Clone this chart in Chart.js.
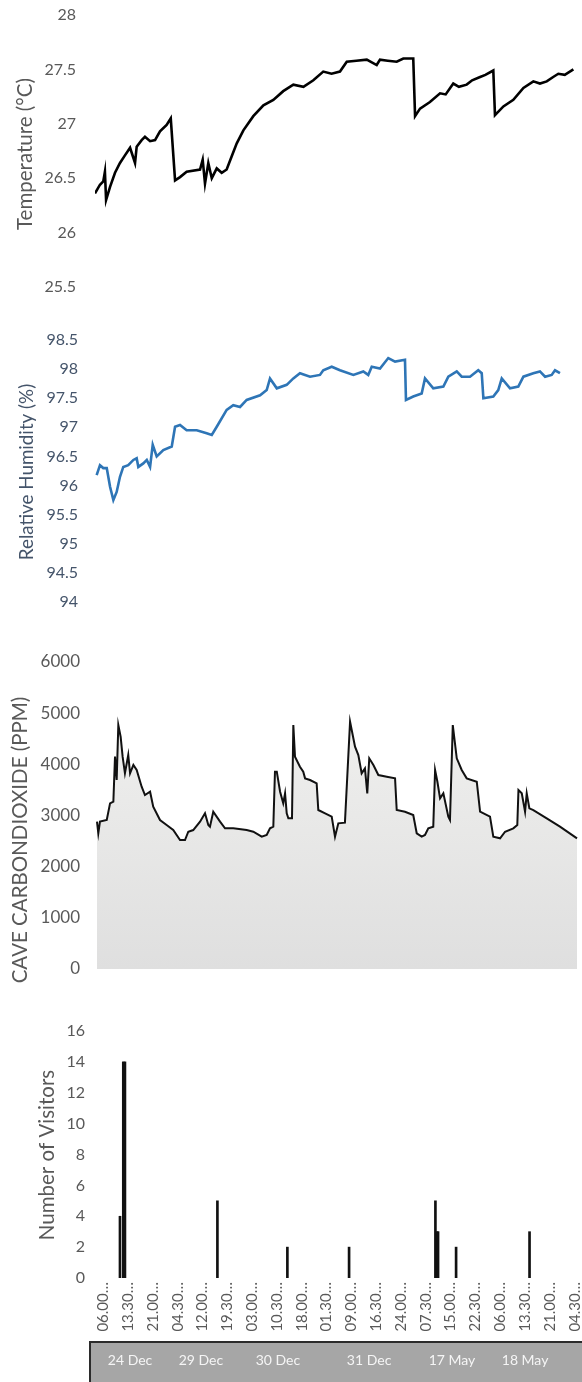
<!DOCTYPE html>
<html><head><meta charset="utf-8">
<script src="https://cdn.jsdelivr.net/npm/chart.js@4.4.0/dist/chart.umd.min.js"></script>
<style>
html,body{margin:0;padding:0;background:#fff;}
#wrap{position:relative;width:582px;height:1382px;overflow:hidden;}
.p{position:absolute;left:0;width:582px;}
canvas{display:block;}
</style></head><body>
<div id="wrap">
<div class="p" style="top:0;height:300px"><canvas id="c1" width="582" height="300"></canvas></div>
<div class="p" style="top:300px;height:320px"><canvas id="c2" width="582" height="320"></canvas></div>
<div class="p" style="top:640px;height:360px"><canvas id="c3" width="582" height="360"></canvas></div>
<div class="p" style="top:1000px;height:382px"><canvas id="c4" width="582" height="382"></canvas></div>
</div>
<script>
// ---- time index (half-hour steps across the six recorded days) ----
const X_MIN = 0, X_MAX = 292;

// Temperature (°C)
const tempIdx = [0,3,5,6,6.7,9.1,12.1,15.1,18.1,21.2,24.2,25.2,28.2,30.2,33.3,36.3,39.3,43.3,45.8,48.4,51.4,55.4,63.5,65.1,66.5,68.5,70.6,73.6,76.6,79.6,82.6,85.7,89.7,95.7,101.8,107.8,113.8,119.9,126,132,138,143,148.1,152.2,158,164.3,170.3,172.3,177,182.4,186.4,192.4,193.5,196.5,202.5,208.6,212,216.6,220,224.7,228,232.8,236,240.8,241.8,246.9,252.9,259,265,269,273.1,277,280.1,284,289.2];
const tempVal = [26.36,26.44,26.47,26.56,26.30,26.42,26.55,26.64,26.71,26.78,26.64,26.79,26.85,26.88,26.84,26.85,26.93,26.99,27.05,26.48,26.51,26.56,26.58,26.67,26.45,26.64,26.50,26.59,26.55,26.58,26.70,26.82,26.94,27.07,27.17,27.22,27.30,27.36,27.34,27.40,27.48,27.46,27.48,27.57,27.58,27.59,27.54,27.59,27.58,27.57,27.60,27.60,27.07,27.14,27.20,27.28,27.27,27.37,27.34,27.36,27.40,27.43,27.45,27.49,27.08,27.16,27.22,27.33,27.39,27.37,27.39,27.43,27.46,27.45,27.50];

// Relative humidity (%)
const humIdx = [1,3,5,7.1,9.1,11.1,13.1,15.1,17.1,20.1,23.2,25.2,26.2,29.2,31.3,33.3,34.9,37.3,41.3,46.4,48.4,51.4,55.4,61.5,67.5,70.6,73.6,79.6,83.6,87.7,91.7,99.8,103.8,105.8,109.9,115.9,119.9,123.9,130,136,138,143.1,148.1,156.2,162.2,165.2,167.3,172.3,177.3,181.4,187.4,188,192.4,197.5,199.5,204.5,210.6,213.6,218.7,221.7,226.7,231.7,233.8,234.8,240.8,243.8,245.9,250.9,255.9,259,265,269,272.1,276.1,278.1,281.1];
const humVal = [96.18,96.35,96.30,96.30,95.98,95.75,95.89,96.15,96.32,96.35,96.44,96.47,96.32,96.38,96.44,96.32,96.70,96.50,96.61,96.67,97.01,97.04,96.95,96.95,96.90,96.87,97.01,97.30,97.38,97.35,97.47,97.55,97.64,97.84,97.67,97.73,97.84,97.93,97.87,97.90,97.98,98.04,97.98,97.90,97.96,97.90,98.04,98.01,98.19,98.13,98.16,97.47,97.53,97.58,97.84,97.67,97.70,97.87,97.96,97.87,97.87,97.98,97.93,97.50,97.53,97.64,97.84,97.67,97.70,97.87,97.93,97.96,97.87,97.90,97.98,97.93];

// Cave carbon dioxide (ppm)
const co2Idx = [1.2,2,3,7.1,9.1,11.1,12.1,13.1,14.1,15.5,16.7,18.1,20.1,21.2,23.2,25.2,28.2,30.2,33.3,35.2,39.3,43.3,47.3,51.4,54.4,56.4,59.4,63.5,66.5,68.5,69.5,71.5,75.6,78.6,83.6,91.7,95.7,100.8,103.8,105.8,107.8,108.8,109.9,111.9,113.8,114.9,115.9,116.9,119.1,119.9,120.9,123.9,125.9,127,130,134,135,139.1,143.1,145.1,147.1,151.1,154.2,157.2,159.2,161.2,163.2,164.6,165.8,168.3,171.3,176.4,181.4,182.4,187.4,192.4,194.5,197.5,199.5,201.5,204.5,205.6,207,208.6,210.6,213.6,214.6,216.3,218.7,221.7,224.7,230.8,232.8,238.8,240.8,244.9,247.9,252.9,255.3,256,258,260,261,262.6,265,273.1,281.1,291.4];
const co2Val = [2880,2652,2880,2912,3238,3270,4150,3694,4768,4540,4150,3825,4182,3825,3987,3890,3563,3400,3465,3172,2912,2814,2716,2521,2521,2683,2716,2880,3043,2814,2781,3074,2880,2749,2749,2716,2683,2586,2619,2749,2781,3856,3856,3465,3238,3433,3043,2945,2945,4768,4150,3954,3856,3726,3694,3628,3107,3043,2977,2586,2847,2860,4833,4344,4182,3825,3922,3433,4117,3987,3791,3758,3726,3107,3074,3010,2652,2586,2619,2749,2781,3889,3660,3336,3433,2977,2912,4768,4117,3889,3726,3660,3074,2977,2586,2554,2683,2749,2814,3498,3433,3074,3433,3140,3107,2945,2781,2554];

// Number of visitors
const visIdx = [15.1,17.1,18.1,74,116.3,153.6,205.8,206.8,207.4,218.3,262.7];
const visVal = [4,14,14,5,2,2,5,3,3,2,3];

// Axis labels
const hourTickPos = [5,20,35,50,65,80,95,110,125,140,155,170,185,200,215,230,245,260,275,290];
const hourLabels = ['06.00…','13.30…','21.00…','04.30…','12.00…','19.30…','03.00…','10.30…','18.00…','01.30…','09.00…','16.30…','24.00…','07.30…','15.00…','22.30…','06.00…','13.30…','21.00…','04.30…'];
const dateLabels = ['24 Dec','29 Dec','30 Dec','31 Dec','17 May','18 May'];
const datePos = [21.2,64,110.6,165.7,215.8,260];

const FONT = 'Lato';
const GREY = '#595959';
const SLATE = '#44546A';

function pts(xs, ys){ return xs.map((x,i)=>({x:x, y:ys[i]})); }

function yAxis(o){
  return {
    min:o.min, max:o.max,
    grid:{display:false, drawTicks:false},
    border:{display:false},
    ticks:{stepSize:o.step, color:o.color, padding:o.pad, font:{family:FONT, size:o.tsize||16},
      callback:(v)=>String(v)},
    title:{display:false},
    afterFit:(s)=>{ s.width = 95; s.paddingTop = 0; s.paddingBottom = 0; }
  };
}
const xHidden = {type:'linear', min:X_MIN, max:X_MAX, display:false};

// rotated axis title drawn at the left of each panel
function titlePlugin(t){
  return {
    id:'vtitle',
    afterDraw(chart){
      const ctx = chart.ctx;
      ctx.save();
      ctx.translate(t.cx, t.cy);
      ctx.rotate(-Math.PI/2);
      ctx.fillStyle = t.color;
      ctx.font = t.size + 'px ' + FONT;
      ctx.textAlign = 'center';
      ctx.textBaseline = 'middle';
      ctx.fillText(t.text, 0, 0);
      ctx.restore();
    }
  };
}

function build(){
  Chart.defaults.animation = false;
  Chart.defaults.font.family = FONT;
  const base = (pad)=>({responsive:false, animation:false,
    layout:{autoPadding:false, padding:pad},
    plugins:{legend:{display:false}, tooltip:{enabled:false}}});

  new Chart(document.getElementById('c1'), {
    type:'line',
    data:{datasets:[{data:pts(tempIdx,tempVal), borderColor:'#000', borderWidth:2.6, pointRadius:0, tension:0, fill:false}]},
    options:Object.assign(base({top:15,bottom:13,left:0,right:4}), {
      scales:{x:xHidden, y:yAxis({min:25.5,max:28,step:0.5,color:GREY,pad:19})}}),
    plugins:[titlePlugin({text:'Temperature (°C)', color:GREY, size:20.5, cx:25, cy:154})]
  });

  new Chart(document.getElementById('c2'), {
    type:'line',
    data:{datasets:[{data:pts(humIdx,humVal), borderColor:'#2E75B6', borderWidth:2.6, pointRadius:0, tension:0, fill:false}]},
    options:Object.assign(base({top:40,bottom:18,left:0,right:4}), {
      scales:{x:xHidden, y:yAxis({min:94,max:98.5,step:0.5,color:SLATE,pad:17})}}),
    plugins:[titlePlugin({text:'Relative Humidity (%)', color:SLATE, size:18.8, cx:27, cy:172})]
  });

  new Chart(document.getElementById('c3'), {
    type:'line',
    data:{datasets:[{data:pts(co2Idx,co2Val), borderColor:'#111', borderWidth:2, pointRadius:0, tension:0, fill:'origin',
      backgroundColor:(ctx)=>{ const a = ctx.chart.chartArea; if(!a) return '#e6e6e6';
        const g = ctx.chart.ctx.createLinearGradient(0,a.top,0,a.bottom);
        g.addColorStop(0,'#f3f3f1'); g.addColorStop(1,'#dfdfdf'); return g; }}]},
    options:Object.assign(base({top:22,bottom:31,left:0,right:4}), {
      scales:{x:xHidden, y:yAxis({min:0,max:6000,step:1000,color:GREY,pad:15,tsize:17})}}),
    plugins:[titlePlugin({text:'CAVE CARBONDIOXIDE (PPM)', color:GREY, size:20.5, cx:20, cy:200})]
  });

  const bandPlugin = {
    id:'dateBand',
    afterDraw(chart){
      const ctx = chart.ctx, h = chart.height, w = chart.width, xs = chart.scales.x;
      ctx.save();
      ctx.fillStyle = '#a6a6a6';
      ctx.fillRect(90, h-40, w-90, 40);
      ctx.fillStyle = '#2b2b2b';
      ctx.fillRect(89, h-41, w-89, 2);
      ctx.fillRect(89, h-41, 2, 41);
      ctx.fillStyle = '#f5f5f5';
      ctx.font = '14px ' + FONT;
      ctx.textAlign = 'center';
      ctx.textBaseline = 'middle';
      dateLabels.forEach((t,i)=>ctx.fillText(t, xs.getPixelForValue(datePos[i]), h-22));
      ctx.restore();
    }
  };

  new Chart(document.getElementById('c4'), {
    type:'bar',
    data:{datasets:[{data:pts(visIdx,visVal), backgroundColor:'#111', borderWidth:0, barThickness:2}]},
    options:Object.assign(base({top:31,bottom:0,left:0,right:4}), {
      scales:{
        x:{type:'linear', min:X_MIN, max:X_MAX, offset:false,
          grid:{display:false, drawTicks:false}, border:{display:false},
          afterBuildTicks:(s)=>{ s.ticks = hourTickPos.map(v=>({value:v})); },
          ticks:{autoSkip:false, minRotation:90, maxRotation:90, padding:4, color:GREY, font:{family:FONT, size:15},
            callback:(v,i)=>hourLabels[i]},
          afterFit:(s)=>{ s.height = 104; s.paddingLeft = 0; s.paddingRight = 0; }},
        y:yAxis({min:0,max:16,step:2,color:GREY,pad:10})
      }}),
    plugins:[bandPlugin, titlePlugin({text:'Number of Visitors', color:GREY, size:20.5, cx:47, cy:155})]
  });
}

const fontsReady = (document.fonts && document.fonts.load) ?
  Promise.all([document.fonts.load('16px Lato'), document.fonts.load('18px Lato')]).catch(()=>{}) : Promise.resolve();
fontsReady.then(build, build);
</script>
</body></html>
